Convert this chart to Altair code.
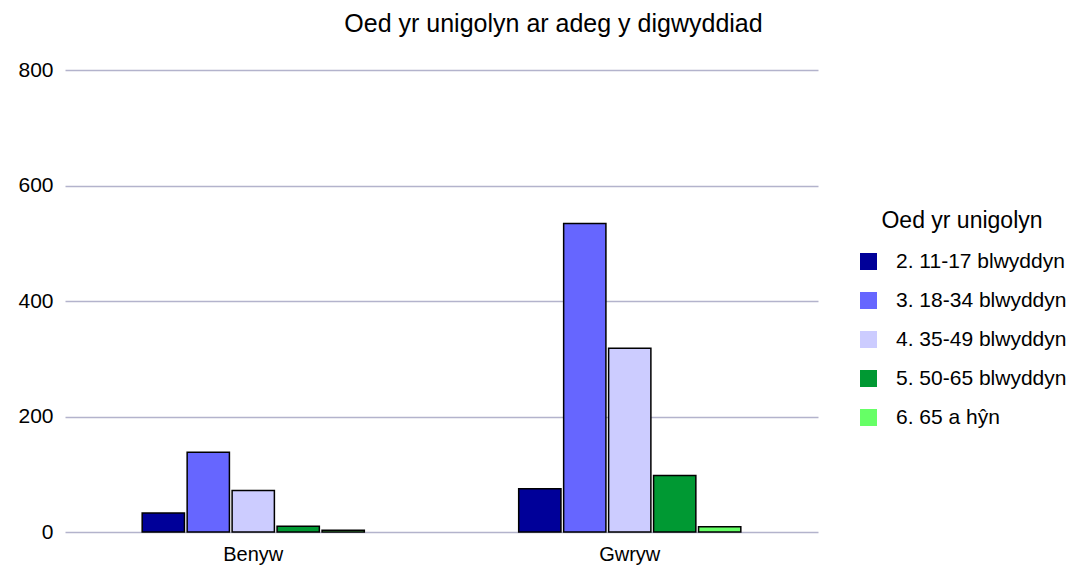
import altair as alt
import pandas as pd

genders = ["Benyw", "Gwryw"]
ages = ["2. 11-17 blwyddyn", "3. 18-34 blwyddyn", "4. 35-49 blwyddyn", "5. 50-65 blwyddyn", "6. 65 a hŷn"]
benyw = [33, 138, 72, 10, 3]
gwryw = [75, 534, 318, 98, 9]
colors = ["#000099", "#6666ff", "#ccccff", "#009933", "#66ff66"]

rows = []
for a, v in zip(ages, benyw):
    rows.append({"Rhyw": "Benyw", "Oed": a, "Nifer": v})
for a, v in zip(ages, gwryw):
    rows.append({"Rhyw": "Gwryw", "Oed": a, "Nifer": v})
df = pd.DataFrame(rows)

FONT = "Liberation Sans"

chart = alt.Chart(df).mark_bar(stroke="black", strokeWidth=1.5).encode(
    x=alt.X("Rhyw:N", sort=genders, title=None,
            scale=alt.Scale(paddingInner=0.41, paddingOuter=0.205),
            axis=alt.Axis(labelAngle=0, labelFontSize=20, labelFont=FONT, labelColor="black",
                          domain=False, ticks=False, labelPadding=12)),
    xOffset=alt.XOffset("Oed:N", sort=ages, scale=alt.Scale(paddingInner=0.06)),
    y=alt.Y("Nifer:Q", title=None,
            scale=alt.Scale(domain=[0, 800]),
            axis=alt.Axis(values=[0, 200, 400, 600, 800], labelFontSize=21, labelFont=FONT,
                          labelColor="black", domain=False, ticks=False, labelPadding=12,
                          gridColor="#b3b3cc", gridWidth=1.5)),
    color=alt.Color("Oed:N", sort=ages, scale=alt.Scale(domain=ages, range=colors),
                    legend=alt.Legend(title="Oed yr unigolyn", orient="none", legendX=793, legendY=140,
                                      titleFontSize=23, titleFont=FONT, titleFontWeight="normal",
                                      titleColor="black", titleAnchor="middle", titleAlign="center",
                                      titlePadding=18, labelLimit=400,
                                      labelFontSize=21, labelFont=FONT, labelColor="black",
                                      symbolType="square", symbolSize=289, symbolStrokeWidth=0,
                                      labelOffset=17, rowPadding=17)),
).properties(
    width=753,
    height=462,
    title=alt.TitleParams("Oed yr unigolyn ar adeg y digwyddiad", fontSize=25, font=FONT,
                          fontWeight="normal", color="black", anchor="middle", dx=112, offset=22),
    autosize=alt.AutoSizeParams(type="none"),
    padding={"left": 57, "top": 62, "right": 265, "bottom": 40},
).configure_view(stroke=None)

chart.save("out.html", embed_options={"renderer": "svg", "actions": False})
